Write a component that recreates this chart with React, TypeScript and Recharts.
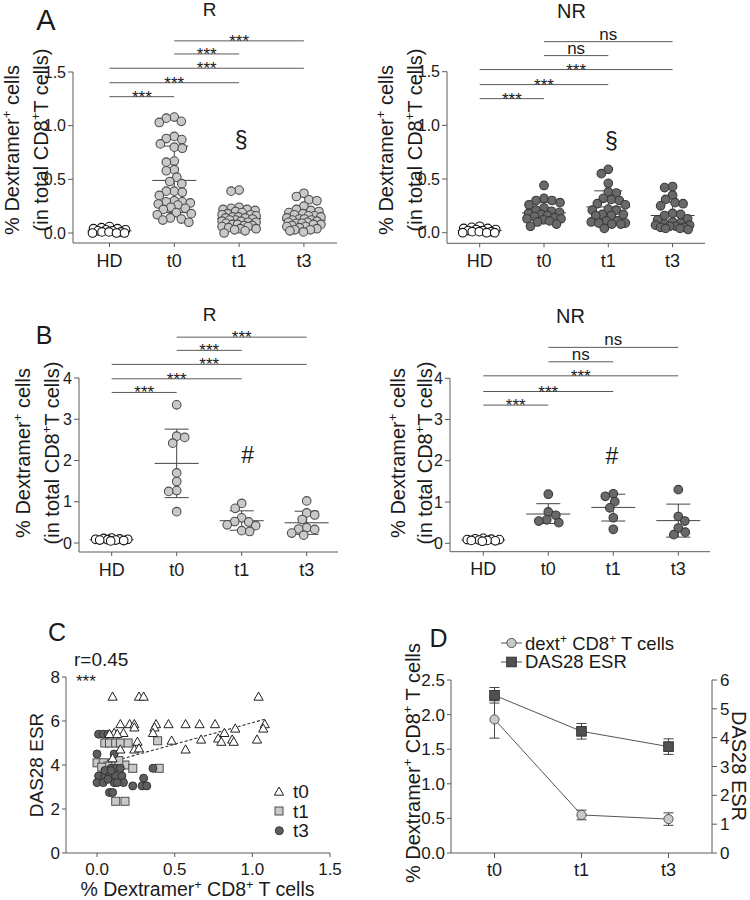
import React from "react";
import {
  ScatterChart,
  Scatter,
  LineChart,
  Line,
  XAxis,
  YAxis,
  ReferenceLine,
  ReferenceDot,
  ErrorBar,
} from "recharts";

const FONT = "Arial, 'Liberation Sans', Helvetica, sans-serif";
const INK = "#1a1a1a";
const AXIS = "#5a5a5a";
const STAT = "#444";
const LIGHT = "#c9c9c9";
const LIGHT_EDGE = "#4d4d4d";
const DARK = "#696969";
const DARK_EDGE = "#3a3a3a";
const R = 4.3;

const groups = ["HD", "t0", "t1", "t3"];
const sigPairs = [[0, 1], [0, 2], [0, 3], [1, 2], [1, 3]];

// A, responders
const aR_HD = [0.06, 0.05, 0.04, 0.04, 0.03, 0.03, 0.02, 0.02, 0.01, 0.01, 0.01, 0.0, 0.0, 0.0];
const aR_t0 = [1.08, 1.07, 1.04, 1.03, 0.9, 0.88, 0.87, 0.83, 0.8, 0.79, 0.67, 0.66, 0.59, 0.58, 0.52, 0.48, 0.46, 0.39, 0.39, 0.38, 0.35, 0.3, 0.29, 0.29, 0.28, 0.27, 0.26, 0.24, 0.23, 0.22, 0.19, 0.18, 0.17, 0.14, 0.13, 0.12, 0.1];
const aR_t1 = [0.4, 0.39, 0.24, 0.23, 0.22, 0.22, 0.21, 0.2, 0.19, 0.18, 0.17, 0.17, 0.16, 0.15, 0.15, 0.14, 0.14, 0.13, 0.12, 0.12, 0.11, 0.11, 0.1, 0.1, 0.09, 0.08, 0.08, 0.07, 0.07, 0.06, 0.06, 0.05, 0.04, 0.04, 0.03, 0.02, 0.0];
const aR_t3 = [0.37, 0.34, 0.31, 0.3, 0.25, 0.22, 0.21, 0.2, 0.19, 0.18, 0.17, 0.16, 0.16, 0.15, 0.14, 0.13, 0.13, 0.12, 0.12, 0.11, 0.1, 0.1, 0.09, 0.09, 0.08, 0.08, 0.07, 0.06, 0.06, 0.05, 0.04, 0.03, 0.03, 0.02, 0.01];
const aR_mid = [0.02, 0.49, 0.135, 0.12];
const aR_lo = [0.01, 0.19, 0.07, 0.06];
const aR_hi = [0.03, 0.81, 0.22, 0.21];
const aR_sigY = [1.27, 1.4, 1.535, 1.668, 1.79];
const aR_sigTxt = ["***", "***", "***", "***", "***"];

// A, non-responders
const aNR_HD = [0.06, 0.05, 0.04, 0.04, 0.03, 0.03, 0.02, 0.02, 0.01, 0.01, 0.01, 0.0, 0.0, 0.0];
const aNR_t0 = [0.44, 0.32, 0.3, 0.3, 0.28, 0.26, 0.23, 0.21, 0.2, 0.19, 0.18, 0.17, 0.16, 0.15, 0.14, 0.13, 0.13, 0.12, 0.11, 0.1, 0.08, 0.06];
const aNR_t1 = [0.59, 0.55, 0.46, 0.38, 0.37, 0.32, 0.31, 0.3, 0.27, 0.26, 0.22, 0.21, 0.21, 0.17, 0.17, 0.16, 0.16, 0.11, 0.11, 0.1, 0.09, 0.09, 0.08, 0.08, 0.04];
const aNR_t3 = [0.43, 0.42, 0.35, 0.31, 0.28, 0.27, 0.25, 0.18, 0.17, 0.16, 0.13, 0.12, 0.1, 0.09, 0.08, 0.07, 0.07, 0.06, 0.06, 0.05, 0.05, 0.04, 0.04, 0.03];
const aNR_mid = [0.02, 0.185, 0.24, 0.16];
const aNR_lo = [0.01, 0.12, 0.12, 0.07];
const aNR_hi = [0.03, 0.28, 0.39, 0.285];
const aNR_sigY = [1.249, 1.38, 1.52, 1.65, 1.78];
const aNR_sigTxt = ["***", "***", "***", "ns", "ns"];

// B, responders
const bR_HD = [0.12, 0.11, 0.1, 0.09, 0.09, 0.08, 0.07, 0.07, 0.06, 0.05];
const bR_t0 = [3.35, 2.59, 2.56, 2.42, 1.7, 1.49, 1.27, 1.25, 0.76];
const bR_t1 = [0.96, 0.84, 0.61, 0.52, 0.51, 0.44, 0.42, 0.3, 0.28];
const bR_t3 = [1.02, 0.73, 0.68, 0.57, 0.37, 0.34, 0.33, 0.24, 0.19];
const bR_mid = [0.08, 1.93, 0.54, 0.49];
const bR_lo = [0.06, 1.1, 0.31, 0.21];
const bR_hi = [0.1, 2.76, 0.78, 0.77];
const bR_sigY = [3.65, 3.98, 4.33, 4.67, 4.99];
const bR_sigTxt = ["***", "***", "***", "***", "***"];

// B, non-responders
const bNR_HD = [0.12, 0.11, 0.1, 0.09, 0.09, 0.08, 0.07, 0.07, 0.06, 0.05];
const bNR_t0 = [1.19, 0.76, 0.68, 0.57, 0.54, 0.5];
const bNR_t1 = [1.2, 1.14, 1.01, 0.86, 0.62, 0.34];
const bNR_t3 = [1.3, 0.65, 0.54, 0.37, 0.27, 0.21];
const bNR_mid = [0.08, 0.71, 0.87, 0.55];
const bNR_lo = [0.06, 0.48, 0.54, 0.15];
const bNR_hi = [0.1, 0.96, 1.19, 0.95];
const bNR_sigY = [3.35, 3.68, 4.06, 4.4, 4.75];
const bNR_sigTxt = ["***", "***", "***", "ns", "ns"];

// C, dextramer+ vs DAS28 ESR  [x, y]
const c_t0 = [[0.1, 7.1], [0.27, 7.1], [0.3, 7.1], [1.04, 7.1], [0.15, 5.85], [0.21, 5.85], [0.24, 5.85], [0.38, 5.85], [0.46, 5.85], [0.57, 5.85], [0.66, 5.85], [0.76, 5.85], [1.08, 5.85], [0.24, 5.7], [0.37, 5.7], [0.89, 5.65], [1.07, 5.65], [0.11, 5.45], [0.17, 5.45], [0.36, 5.45], [0.82, 5.45], [0.26, 5.05], [0.48, 5.1], [0.67, 5.15], [0.78, 5.2], [0.8, 5.05], [0.87, 5.15], [0.88, 5.05], [1.03, 5.15], [0.15, 4.7], [0.24, 4.7], [0.27, 4.75], [0.57, 4.7], [0.08, 5.4], [0.13, 5.4], [0.1, 4.3]];
const c_t1 = [[0.05, 5.0], [0.08, 5.0], [0.12, 5.0], [0.15, 5.0], [0.2, 5.0], [0.39, 5.1], [0.0, 4.1], [0.04, 4.1], [0.1, 4.1], [0.07, 3.95], [0.18, 4.0], [0.23, 3.85], [0.03, 3.9], [0.4, 3.85], [0.12, 2.35], [0.18, 2.35], [0.14, 4.2]];
const c_t3 = [[0.01, 5.4], [0.04, 5.4], [0.07, 5.4], [0.0, 4.5], [0.11, 4.5], [0.09, 3.85], [0.12, 3.85], [0.15, 3.85], [0.36, 3.85], [0.01, 3.5], [0.05, 3.5], [0.08, 3.5], [0.12, 3.5], [0.16, 3.5], [0.3, 3.4], [0.0, 3.2], [0.04, 3.2], [0.11, 3.2], [0.17, 3.2], [0.23, 3.05], [0.29, 3.05], [0.32, 3.05], [0.05, 3.75], [0.09, 3.75], [0.08, 2.75], [0.1, 2.75], [0.13, 3.2], [0.07, 3.35]];
const trendX = [0.13, 1.08];
const trendY = [4.22, 6.08];
const cTicksX = [0, 0.5, 1, 1.5];
const cTicksY = [0, 2, 4, 6, 8];

// D, means over time
const dTimes = ["t0", "t1", "t3"];
const dDext = [1.93, 0.55, 0.49];
const dDextSd = [0.27, 0.07, 0.09];
const dDas = [5.47, 4.22, 3.69];
const dDasSd = [0.27, 0.27, 0.27];
const dTicksL = [0, 0.5, 1, 1.5, 2, 2.5];
const dTicksR = [0, 1, 2, 3, 4, 5, 6];

// simple beeswarm: horizontal pixel offsets so dots don't pile up
function swarm(values: number[], ppuY: number, maxHalf: number, gap: number) {
  const placed: { x: number; y: number }[] = [];
  const minD = 2 * R * gap;
  return values.map((v, i) => {
    const py = v * ppuY;
    let best = 0;
    let bestD = -1;
    for (let k = 0; k <= maxHalf; k += 0.5) {
      const cands = k === 0 ? [0] : i % 2 ? [-k, k] : [k, -k];
      for (const c of cands) {
        let d = Infinity;
        for (const p of placed) d = Math.min(d, Math.hypot(p.x - c, p.y - py));
        if (d >= minD) {
          placed.push({ x: c, y: py });
          return c;
        }
        if (d > bestD) {
          bestD = d;
          best = c;
        }
      }
    }
    placed.push({ x: best, y: py });
    return best;
  });
}

function supText(parts: string[], fs: number) {
  const out: any[] = [];
  const up = fs * 0.38;
  parts.forEach((p, i) => {
    out.push(
      <tspan key={"p" + i} dy={i === 0 ? 0 : up}>
        {p}
      </tspan>
    );
    if (i < parts.length - 1)
      out.push(
        <tspan key={"s" + i} dy={-up} fontSize={fs * 0.65}>
          +
        </tspan>
      );
  });
  return out;
}

type Grp = { values: number[]; fill: string; stroke: string };

function DotPanel(p: any) {
  const ppu = (p.zeroPx - p.tickPx) / p.topTick;
  const yMin = -(p.axisPx - p.zeroPx) / ppu;
  const plotTop = p.zeroPx - p.yMax * ppu - p.top;
  const xMin = (p.axisL - p.hdPx) / p.step;
  const xMax = (p.axisR - p.hdPx) / p.step;
  const tickTop = p.yTicks[p.yTicks.length - 1];
  const mh = 22 / p.step;
  const ch = p.capPx / p.step;
  const tickFont = { fill: INK, fontSize: 16, fontFamily: FONT };
  const series = p.groups.map((g: Grp, gi: number) => {
    const off = swarm(g.values, ppu, 17, 0.92);
    return g.values.map((v, i) => ({ x: gi + off[i] / p.step, y: v }));
  });

  return (
    <div style={{ position: "absolute", left: p.left, top: p.top }}>
      <ScatterChart
        width={p.width}
        height={p.height}
        margin={{ top: plotTop, right: p.left + p.width - p.axisR, bottom: 0, left: 0 }}
      >
        <XAxis
          type="number"
          dataKey="x"
          domain={[xMin, xMax]}
          allowDataOverflow
          ticks={[0, 1, 2, 3]}
          interval={0}
          tickFormatter={(v: number) => groups[v]}
          height={p.top + p.height - p.axisPx}
          stroke={AXIS}
          tickSize={4}
          tickMargin={7}
          tick={{ ...tickFont, fontSize: 18 }}
        />
        <YAxis
          type="number"
          dataKey="y"
          domain={[yMin, p.yMax]}
          allowDataOverflow
          ticks={p.yTicks}
          interval={0}
          tickFormatter={p.fmt}
          width={p.axisL - p.left}
          axisLine={false}
          stroke={AXIS}
          tickSize={5}
          tickMargin={2}
          tick={tickFont}
        />
        <ReferenceLine
          segment={[{ x: xMin, y: yMin }, { x: xMin, y: tickTop }]}
          stroke={AXIS}
          ifOverflow="visible"
        />
        {p.groups.map((g: Grp, gi: number) => (
          <Scatter
            key={"g" + gi}
            data={series[gi]}
            isAnimationActive={false}
            shape={(s: any) => (
              <circle cx={s.cx} cy={s.cy} r={R} fill={g.fill} stroke={g.stroke} strokeWidth={1.1} />
            )}
          />
        ))}
        {p.mid.map((m: number, gi: number) => (
          <ReferenceLine key={"m" + gi} segment={[{ x: gi - mh, y: m }, { x: gi + mh, y: m }]} stroke={STAT} ifOverflow="visible" />
        ))}
        {p.mid.map((m: number, gi: number) => (
          <ReferenceLine key={"v" + gi} segment={[{ x: gi, y: p.lo[gi] }, { x: gi, y: p.hi[gi] }]} stroke={STAT} ifOverflow="visible" />
        ))}
        {p.mid.map((m: number, gi: number) => (
          <ReferenceLine key={"h" + gi} segment={[{ x: gi - ch, y: p.hi[gi] }, { x: gi + ch, y: p.hi[gi] }]} stroke={STAT} ifOverflow="visible" />
        ))}
        {p.mid.map((m: number, gi: number) => (
          <ReferenceLine key={"l" + gi} segment={[{ x: gi - ch, y: p.lo[gi] }, { x: gi + ch, y: p.lo[gi] }]} stroke={STAT} ifOverflow="visible" />
        ))}
        {sigPairs.map(([a, b], k) => (
          <ReferenceLine
            key={"s" + k}
            segment={[{ x: a, y: p.sigY[k] }, { x: b, y: p.sigY[k] }]}
            stroke={AXIS}
            ifOverflow="visible"
            label={{
              value: p.sigTxt[k],
              position: "top",
              offset: p.sigTxt[k] === "ns" ? 2 : -6,
              fill: INK,
              fontSize: 17,
              fontFamily: FONT,
            }}
          />
        ))}
        <ReferenceDot
          x={p.markX}
          y={p.markY}
          r={1}
          fill="none"
          stroke="none"
          ifOverflow="visible"
          label={{ value: p.markTxt, position: "center", fontSize: 23, fill: INK, fontFamily: FONT }}
        />
      </ScatterChart>
    </div>
  );
}

const fmt1 = (v: number) => v.toFixed(1);
const fmt0 = (v: number) => String(v);
const hdStyle = { fill: "#fff", stroke: "#111" };
const rStyle = { fill: LIGHT, stroke: LIGHT_EDGE };
const nrStyle = { fill: DARK, stroke: DARK_EDGE };

function PanelC() {
  const pts = (a: number[][]) => a.map(([x, y]) => ({ x, y }));
  const tickFont = { fill: INK, fontSize: 17, fontFamily: FONT };
  return (
    <div style={{ position: "absolute", left: 0, top: 570 }}>
      <ScatterChart width={375} height={330} margin={{ top: 107, right: 45, bottom: 0, left: 0 }}>
        <XAxis
          type="number"
          dataKey="x"
          domain={[-0.2, 1.5]}
          allowDataOverflow
          ticks={cTicksX}
          interval={0}
          tickFormatter={fmt1}
          height={47}
          stroke={AXIS}
          tickSize={4}
          tickMargin={6}
          tick={tickFont}
        />
        <YAxis
          type="number"
          dataKey="y"
          domain={[0, 8]}
          allowDataOverflow
          ticks={cTicksY}
          interval={0}
          width={66}
          stroke={AXIS}
          tickSize={4}
          tickMargin={2}
          tick={tickFont}
        />
        <Scatter
          data={pts(c_t1)}
          isAnimationActive={false}
          shape={(s: any) => (
            <rect x={s.cx - 4} y={s.cy - 4} width={8} height={8} fill={LIGHT} stroke={LIGHT_EDGE} strokeWidth={1} />
          )}
        />
        <Scatter
          data={pts(c_t3)}
          isAnimationActive={false}
          shape={(s: any) => <circle cx={s.cx} cy={s.cy} r={4} fill="#5e5e5e" stroke="#333" strokeWidth={1} />}
        />
        <Scatter
          data={pts(c_t0)}
          isAnimationActive={false}
          shape={(s: any) => (
            <path
              d={`M${s.cx},${s.cy - 4.8} L${s.cx - 4.6},${s.cy + 3.4} L${s.cx + 4.6},${s.cy + 3.4} Z`}
              fill="#fff"
              stroke="#222"
              strokeWidth={1}
            />
          )}
        />
        <ReferenceLine
          segment={[{ x: trendX[0], y: trendY[0] }, { x: trendX[1], y: trendY[1] }]}
          stroke="#333"
          strokeDasharray="3 2"
          strokeWidth={1.1}
        />
      </ScatterChart>
    </div>
  );
}

function PanelD() {
  const data = dTimes.map((t, i) => ({ t, dext: dDext[i], dextSd: dDextSd[i], das: dDas[i], dasSd: dDasSd[i] }));
  const tickFont = { fill: INK, fontSize: 17, fontFamily: FONT };
  return (
    <div style={{ position: "absolute", left: 375, top: 570 }}>
      <LineChart width={375} height={330} data={data} margin={{ top: 110, right: 0, bottom: 0, left: 0 }}>
        <XAxis
          dataKey="t"
          height={47}
          stroke={AXIS}
          tickSize={5}
          tickMargin={5}
          interval={0}
          padding={{ left: 43.5, right: 43.5 }}
          tick={{ ...tickFont, fontSize: 18 }}
        />
        <YAxis
          yAxisId="l"
          domain={[0, 2.5]}
          ticks={dTicksL}
          interval={0}
          tickFormatter={fmt1}
          width={76}
          stroke={AXIS}
          tickSize={4}
          tickMargin={2}
          tick={tickFont}
        />
        <YAxis
          yAxisId="r"
          orientation="right"
          domain={[0, 6]}
          ticks={dTicksR}
          interval={0}
          width={38}
          stroke={AXIS}
          tickSize={5}
          tickMargin={3}
          tick={tickFont}
        />
        <Line
          yAxisId="l"
          dataKey="dext"
          stroke="#555"
          strokeWidth={1}
          isAnimationActive={false}
          dot={(s: any) => <circle key={"c" + s.index} cx={s.cx} cy={s.cy} r={4.6} fill={LIGHT} stroke="#555" strokeWidth={1} />}
        >
          <ErrorBar dataKey="dextSd" width={5} stroke="#444" strokeWidth={1} direction="y" />
        </Line>
        <Line
          yAxisId="r"
          dataKey="das"
          stroke="#555"
          strokeWidth={1}
          isAnimationActive={false}
          dot={(s: any) => (
            <rect key={"q" + s.index} x={s.cx - 4.8} y={s.cy - 4.8} width={9.6} height={9.6} fill="#505050" stroke="#333" strokeWidth={1} />
          )}
        >
          <ErrorBar dataKey="dasSd" width={5} stroke="#444" strokeWidth={1} direction="y" />
        </Line>
      </LineChart>
    </div>
  );
}

function Overlay() {
  const t = { fontFamily: FONT, fill: INK };
  const rot = (x: number, y: number, a: number) => `translate(${x},${y}) rotate(${a})`;
  const yl1 = ["% Dextramer", " cells"];
  const yl2 = ["(in total CD8", "T cells)"];
  return (
    <svg width={750} height={900} style={{ position: "absolute", left: 0, top: 0, pointerEvents: "none" }}>
      {/* panel letters and titles */}
      <text x={46} y={30} fontSize={29} textAnchor="middle" {...t}>A</text>
      <text x={209.5} y={16} fontSize={19} textAnchor="middle" {...t}>R</text>
      <text x={571.5} y={18} fontSize={20} textAnchor="middle" {...t}>NR</text>
      <text x={44} y={344} fontSize={25} textAnchor="middle" {...t}>B</text>
      <text x={209.5} y={321} fontSize={19} textAnchor="middle" {...t}>R</text>
      <text x={570.5} y={323} fontSize={20} textAnchor="middle" {...t}>NR</text>
      <text x={57} y={641} fontSize={25} textAnchor="middle" {...t}>C</text>
      <text x={438.5} y={647} fontSize={25} textAnchor="middle" {...t}>D</text>

      {/* y labels A and B */}
      <text transform={rot(19, 150, -90)} fontSize={20} textAnchor="middle" {...t}>{supText(yl1, 20)}</text>
      <text transform={rot(48, 140, -90)} fontSize={20} textAnchor="middle" {...t}>{supText(yl2, 20)}</text>
      <text transform={rot(393, 150, -90)} fontSize={20} textAnchor="middle" {...t}>{supText(yl1, 20)}</text>
      <text transform={rot(422, 140, -90)} fontSize={20} textAnchor="middle" {...t}>{supText(yl2, 20)}</text>
      <text transform={rot(30, 453, -90)} fontSize={20} textAnchor="middle" {...t}>{supText(yl1, 20)}</text>
      <text transform={rot(59, 453, -90)} fontSize={20} textAnchor="middle" {...t}>{supText(yl2, 20)}</text>
      <text transform={rot(405, 453, -90)} fontSize={20} textAnchor="middle" {...t}>{supText(yl1, 20)}</text>
      <text transform={rot(432, 453, -90)} fontSize={20} textAnchor="middle" {...t}>{supText(yl2, 20)}</text>

      {/* panel C texts */}
      <text transform={rot(43, 765, -90)} fontSize={19} textAnchor="middle" {...t}>DAS28 ESR</text>
      <text x={197.5} y={896} fontSize={19.5} textAnchor="middle" {...t}>{supText(["% Dextramer", " CD8", " T cells"], 19.5)}</text>
      <text x={74} y={666} fontSize={19} {...t}>r=0.45</text>
      <text x={76} y={687} fontSize={17} {...t}>***</text>
      <path d="M279,787 L274.4,795.2 L283.6,795.2 Z" fill="#fff" stroke="#222" strokeWidth={1} />
      <text x={293} y={798} fontSize={19} {...t}>t0</text>
      <rect x={275} y={807} width={8} height={8} fill={LIGHT} stroke={LIGHT_EDGE} strokeWidth={1} />
      <text x={293} y={818} fontSize={19} {...t}>t1</text>
      <circle cx={279.3} cy={830.7} r={4} fill="#5e5e5e" stroke="#333" strokeWidth={1} />
      <text x={293} y={837} fontSize={19} {...t}>t3</text>

      {/* panel D texts */}
      <text transform={rot(420, 763, -90)} fontSize={20} textAnchor="middle" {...t}>{supText(["% Dextramer", " CD8", " T cells"], 20)}</text>
      <text transform={rot(732, 766, 90)} fontSize={20} textAnchor="middle" {...t}>DAS28 ESR</text>
      <line x1={501} y1={643} x2={522} y2={643} stroke="#555" strokeWidth={1} />
      <circle cx={511.5} cy={643} r={4.6} fill={LIGHT} stroke="#555" strokeWidth={1} />
      <text x={525} y={650} fontSize={18.5} {...t}>{supText(["dext", " CD8", " T cells"], 18.5)}</text>
      <line x1={501} y1={662} x2={522} y2={662} stroke="#555" strokeWidth={1} />
      <rect x={506.7} y={657.2} width={9.6} height={9.6} fill="#505050" stroke="#333" strokeWidth={1} />
      <text x={525} y={668} fontSize={18.5} {...t}>DAS28 ESR</text>
    </svg>
  );
}

export default function App() {
  return (
    <div style={{ position: "absolute", left: 0, top: 0, width: 750, height: 900, background: "#fff", fontFamily: FONT }}>
      <DotPanel
        left={0} top={0} width={375} height={280}
        hdPx={109.5} step={64.8} axisL={73} axisR={337}
        zeroPx={233} tickPx={72} topTick={1.5} axisPx={243} yMax={1.9}
        yTicks={[0, 0.5, 1, 1.5]} fmt={fmt1} capPx={14}
        groups={[
          { values: aR_HD, ...hdStyle },
          { values: aR_t0, ...rStyle },
          { values: aR_t1, ...rStyle },
          { values: aR_t3, ...rStyle },
        ]}
        mid={aR_mid} lo={aR_lo} hi={aR_hi} sigY={aR_sigY} sigTxt={aR_sigTxt}
        markX={2.03} markY={0.867} markTxt="§"
      />
      <DotPanel
        left={375} top={0} width={375} height={280}
        hdPx={479.7} step={64.3} axisL={447} axisR={705}
        zeroPx={232.7} tickPx={71.7} topTick={1.5} axisPx={243.3} yMax={1.9}
        yTicks={[0, 0.5, 1, 1.5]} fmt={fmt1} capPx={14}
        groups={[
          { values: aNR_HD, ...hdStyle },
          { values: aNR_t0, ...nrStyle },
          { values: aNR_t1, ...nrStyle },
          { values: aNR_t3, ...nrStyle },
        ]}
        mid={aNR_mid} lo={aNR_lo} hi={aNR_hi} sigY={aNR_sigY} sigTxt={aNR_sigTxt}
        markX={2.05} markY={0.857} markTxt="§"
      />
      <DotPanel
        left={0} top={280} width={375} height={300}
        hdPx={111.7} step={65} axisL={79} axisR={338}
        zeroPx={543} tickPx={378} topTick={4} axisPx={552} yMax={5.15}
        yTicks={[0, 1, 2, 3, 4]} fmt={fmt0} capPx={12}
        groups={[
          { values: bR_HD, ...hdStyle },
          { values: bR_t0, ...rStyle },
          { values: bR_t1, ...rStyle },
          { values: bR_t3, ...rStyle },
        ]}
        mid={bR_mid} lo={bR_lo} hi={bR_hi} sigY={bR_sigY} sigTxt={bR_sigTxt}
        markX={2.09} markY={2.13} markTxt="#"
      />
      <DotPanel
        left={375} top={280} width={375} height={300}
        hdPx={483.3} step={65} axisL={450} axisR={710}
        zeroPx={543.3} tickPx={378.3} topTick={4} axisPx={551.7} yMax={5.15}
        yTicks={[0, 1, 2, 3, 4]} fmt={fmt0} capPx={12}
        groups={[
          { values: bNR_HD, ...hdStyle },
          { values: bNR_t0, ...nrStyle },
          { values: bNR_t1, ...nrStyle },
          { values: bNR_t3, ...nrStyle },
        ]}
        mid={bNR_mid} lo={bNR_lo} hi={bNR_hi} sigY={bNR_sigY} sigTxt={bNR_sigTxt}
        markX={1.98} markY={2.13} markTxt="#"
      />
      <PanelC />
      <PanelD />
      <Overlay />
    </div>
  );
}
